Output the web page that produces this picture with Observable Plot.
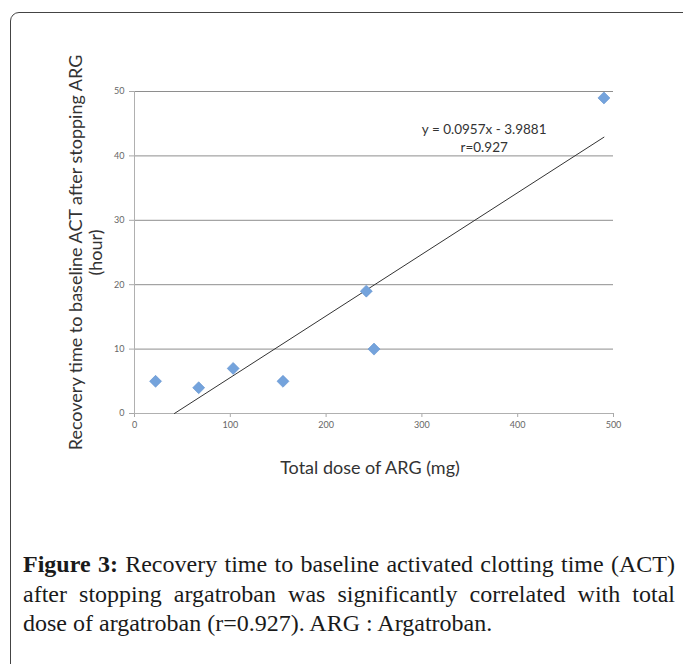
<!DOCTYPE html>
<html>
<head>
<meta charset="utf-8">
<script src="https://cdn.jsdelivr.net/npm/d3@7"></script>
<script src="https://cdn.jsdelivr.net/npm/@observablehq/plot@0.6"></script>
<style>
  html, body { margin: 0; padding: 0; background: #fff; width: 683px; height: 664px; overflow: hidden; }
  #frame { position: absolute; left: 10px; top: 12px; width: 700px; height: 720px;
           border: 1.5px solid #444; border-radius: 9px; box-sizing: border-box; }
  #chart { position: absolute; left: 0; top: 0; }
  #caption { position: absolute; left: 23px; top: 550px; width: 652px;
             font-family: "Liberation Serif", "Times New Roman", serif; font-size: 24px;
             line-height: 29.5px; color: #1a1a1a; }
  #caption .j { display: block; text-align: justify; text-align-last: justify; }
  #caption .l { display: block; text-align: left; }
  #chart svg [aria-label="x-axis tick"], #chart svg [aria-label="y-axis tick"] { stroke: #a8a8a8; }
</style>
</head>
<body>
<div id="frame"></div>
<div id="chart"></div>
<div id="caption">
  <span class="j"><b>Figure 3:</b> Recovery time to baseline activated clotting time (ACT)</span>
  <span class="j">after stopping argatroban was significantly correlated with total</span>
  <span class="l">dose of argatroban (r=0.927). ARG : Argatroban.</span>
</div>
<script>
// Data
const doses = [22, 67, 103, 155, 242, 250, 490];     // Total dose of ARG (mg)
const hours = [5, 4, 7, 5, 19, 10, 49];              // Recovery time (hour)
const slope = 0.0957;
const intercept = -3.9881;
const xTicks = [0, 100, 200, 300, 400, 500];
const yTicks = [0, 10, 20, 30, 40, 50];
const xTitle = "Total dose of ARG (mg)";
const yTitle = "Recovery time to baseline ACT after stopping ARG\n(hour)";
const eqLabel = "y = 0.0957x - 3.9881\nr=0.927";

const points = doses.map((d, i) => ({dose: d, hour: hours[i]}));
const fitX = [-intercept / slope, d3.max(doses)];
const fit = fitX.map(x => ({dose: x, hour: slope * x + intercept}));

const chart = Plot.plot({
  width: 683,
  height: 500,
  marginTop: 91,
  marginBottom: 87,
  marginLeft: 134,
  marginRight: 70,
  style: { fontFamily: "Lato, 'Open Sans', sans-serif", fontSize: "9px", color: "#666", background: "transparent" },
  x: { domain: [0, 500], ticks: xTicks, tickSize: 4, tickPadding: 4, label: null },
  y: { domain: [0, 50], ticks: yTicks, tickSize: 5, tickPadding: 5, label: null },
  marks: [
    Plot.ruleY(yTicks.slice(1), { stroke: "#8e8e8e", strokeWidth: 1 }),
    Plot.ruleX([0], { stroke: "#b0b0b0", strokeWidth: 1 }),
    Plot.ruleY([0], { stroke: "#b0b0b0", strokeWidth: 1 }),
    Plot.line(fit, { x: "dose", y: "hour", stroke: "#333", strokeWidth: 1 }),
    Plot.dot(points, { x: "dose", y: "hour", symbol: "diamond2", r: 5.4,
                       fill: "#74a3dc", stroke: "#5f90cf", strokeWidth: 0.6 }),
    Plot.text([eqLabel], { x: 365, y: 42.86, fontSize: 13.5, lineHeight: 1.33,
                           fill: "#333", fontFamily: "Lato, 'Open Sans', sans-serif" }),
    Plot.text([xTitle], { frameAnchor: "bottom", dy: 60, dx: -4, fontSize: 18, fill: "#333",
                          fontFamily: "Lato, 'Open Sans', sans-serif" }),
    Plot.text([yTitle], { frameAnchor: "left", rotate: -90, dx: -49, fontSize: 18, lineHeight: 1.12,
                          textAnchor: "middle", lineAnchor: "middle",
                          fill: "#333", fontFamily: "Lato, 'Open Sans', sans-serif" })
  ]
});
document.getElementById("chart").appendChild(chart);
</script>
</body>
</html>
